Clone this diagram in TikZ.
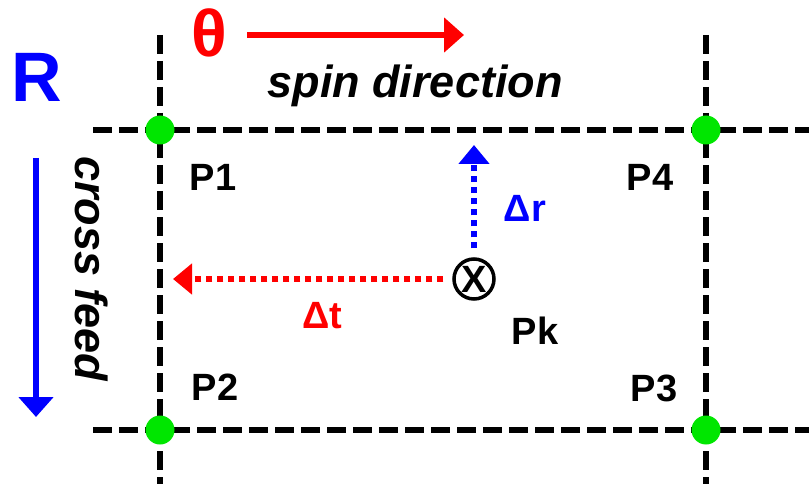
\documentclass[tikz,border=0pt]{standalone}
\usepackage{fontspec}
\setmainfont{Liberation Sans}
\usepackage{tikz}
\usetikzlibrary{positioning,arrows.meta}
\definecolor{ptgreen}{RGB}{0,230,0}
\definecolor{spinred}{RGB}{255,0,0}
\definecolor{feedblue}{RGB}{0,0,255}
\newcommand{\fs}[1]{\fontsize{#1}{#1}\selectfont\bfseries}

\begin{document}
\begin{tikzpicture}[x=1pt,y=-1pt,
  gridline/.style={line width=6pt,dash pattern=on 19pt off 7pt},
  gridpt/.style={circle,fill=ptgreen,inner sep=0pt,minimum size=29pt},
  lbl/.style={inner sep=0pt,font=\fs{38}},
  dotarrow/.style={line width=6pt,dash pattern=on 6pt off 5pt,shorten <=9pt,-{Triangle[length=19pt,width=30pt]}}]
\useasboundingbox (0,0) rectangle (809,484);
% scan lines
\foreach \y [count=\i] in {130,430}{
  \coordinate (hs\i) at (93,\y); \coordinate (he\i) at (809,\y);
  \draw[gridline] (hs\i) -- (he\i);
}
\foreach \x [count=\i] in {160,706}{
  \coordinate (vs\i) at (\x,35); \coordinate (ve\i) at (\x,484);
  \draw[gridline] (vs\i) -- (ve\i);
}
% grid points
\foreach \k/\x/\y/\lx/\ly in {1/160/130/213/177,2/160/430/215/387,3/706/430/654/388,4/706/130/650/177}{
  \node[gridpt] (p\k) at (\x,\y) {};
  \node[lbl] (l\k) at (\lx,\ly) {P\k};
}
% directions
\node[font=\fs{70},text=feedblue] (R) at (37,77) {R};
\node[font=\fs{66},text=spinred] (theta) at (209,33) {θ};
\coordinate (spinA) at (247,35); \coordinate (spinB) at (464,35);
\draw[spinred,line width=6pt,-{Triangle[length=20pt,width=34pt]}] (spinA) -- (spinB);
\node[font=\fs{45}\itshape,anchor=base] (spin) at (415,98) {spin direction};
\coordinate (feedA) at (36,158); \coordinate (feedB) at (36,417);
\draw[feedblue,line width=5.5pt,-{Triangle[length=20pt,width=34pt]}] (feedA) -- (feedB);
\node[font=\fs{45}\itshape,rotate=-90] (feed) at (92,269) {cross feed};
% point Pk
\node[circle,draw,line width=3.5pt,minimum size=40pt,inner sep=0pt,font=\fs{38}] (pk) at (474,279) {X};
\node[lbl] (pklbl) at (535,331) {Pk};
\coordinate (rtip) at (474,145); \coordinate (ttip) at (173,279);
\draw[dotarrow,feedblue] (pk) -- (rtip);
\draw[dotarrow,spinred] (pk) -- (ttip);
\node[lbl,text=feedblue] (dr) at (525,208) {Δr};
\node[lbl,text=spinred] (dt) at (322,316) {Δt};
\end{tikzpicture}
\end{document}
